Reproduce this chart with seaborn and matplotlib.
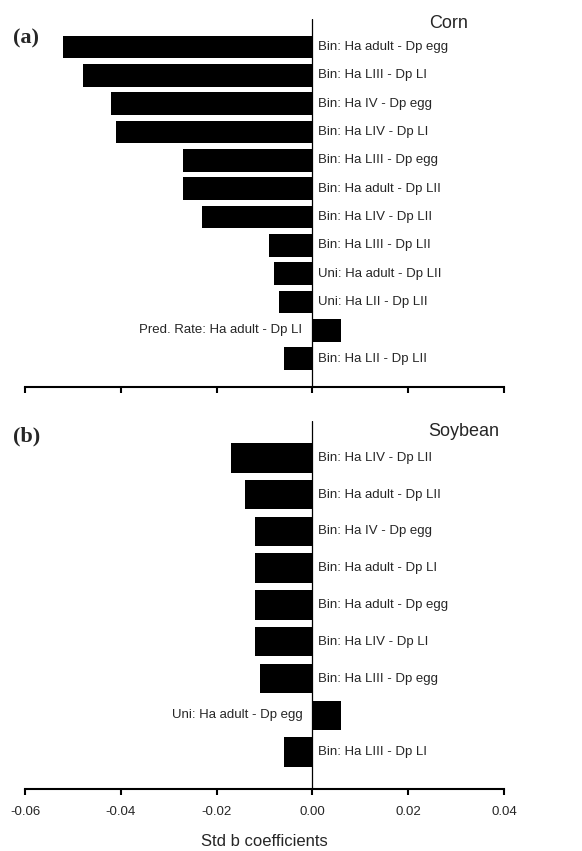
import matplotlib
matplotlib.use("Agg")
import matplotlib.pyplot as plt
import pandas as pd
import seaborn as sns

# Corn (a)
corn_labels = ["Bin: Ha adult - Dp egg", "Bin: Ha LIII - Dp LI", "Bin: Ha IV - Dp egg",
               "Bin: Ha LIV - Dp LI", "Bin: Ha LIII - Dp egg", "Bin: Ha adult - Dp LII",
               "Bin: Ha LIV - Dp LII", "Bin: Ha LIII - Dp LII", "Uni: Ha adult - Dp LII",
               "Uni: Ha LII - Dp LII", "Pred. Rate: Ha adult - Dp LI", "Bin: Ha LII - Dp LII"]
corn_values = [-0.052, -0.048, -0.042, -0.041, -0.027, -0.027,
               -0.023, -0.009, -0.008, -0.007, 0.006, -0.006]

# Soybean (b)
soy_labels = ["Bin: Ha LIV - Dp LII", "Bin: Ha adult - Dp LII", "Bin: Ha IV - Dp egg",
              "Bin: Ha adult - Dp LI", "Bin: Ha adult - Dp egg", "Bin: Ha LIV - Dp LI",
              "Bin: Ha LIII - Dp egg", "Uni: Ha adult - Dp egg", "Bin: Ha LIII - Dp LI"]
soy_values = [-0.017, -0.014, -0.012, -0.012, -0.012, -0.012, -0.011, 0.006, -0.006]

x_ticks = [-0.06, -0.04, -0.02, 0.00, 0.02, 0.04]

sns.set_style("white")
plt.rcParams["font.family"] = ["Liberation Sans", "DejaVu Sans"]
plt.rcParams["axes.unicode_minus"] = False


def panel(ax, labels, values, letter, crop, crop_x, crop_y, letter_y):
    df = pd.DataFrame({"term": labels, "coef": values})
    sns.barplot(data=df, x="coef", y="term", orient="h", color="black",
                saturation=1, width=0.8, linewidth=0, ax=ax)
    n = len(labels)
    ax.set_ylim(n, -1)
    ax.set_xlim(x_ticks[0], x_ticks[-1])
    ax.axvline(0, color="black", lw=0.9)
    # labels sit on the opposite side of the zero line from the bar
    for i, (lab, v) in enumerate(zip(labels, values)):
        if v < 0:
            ax.text(0.0012, i, lab, ha="left", va="center", fontsize=9.5)
        else:
            ax.text(-0.0021, i, lab, ha="right", va="center", fontsize=9.5)
    for s in ["left", "right", "top"]:
        ax.spines[s].set_visible(False)
    ax.spines["bottom"].set_linewidth(1.5)
    ax.spines["bottom"].set_color("black")
    ax.set_yticks([])
    ax.set_ylabel("")
    ax.set_xlabel("")
    ax.set_xticks(x_ticks)
    ax.tick_params(axis="x", direction="out", length=4.5, width=1.5,
                   color="black", bottom=True, labelsize=9.5, pad=8)
    ax.text(crop_x, crop_y, crop, transform=ax.transAxes, ha="center",
            va="center", fontsize=13)
    ax.text(-0.025, letter_y, letter, transform=ax.transAxes, ha="left",
            va="center", fontsize=16, fontweight="bold",
            family=["Liberation Serif", "DejaVu Serif"])


fig = plt.figure(figsize=(5.82, 8.51), dpi=100)
ax_a = fig.add_axes([0.043, 0.5452, 0.823, 0.4328])
ax_b = fig.add_axes([0.043, 0.0729, 0.823, 0.4324])

panel(ax_a, corn_labels, corn_values, "(a)", "Corn", 0.885, 0.986, 0.945)
panel(ax_b, soy_labels, soy_values, "(b)", "Soybean", 0.916, 0.972, 0.958)

ax_a.set_xticklabels([])
ax_b.set_xticklabels([f"{t:.2f}" for t in x_ticks])
ax_b.set_xlabel("Std b coefficients", fontsize=12, labelpad=11)

fig.savefig("out.png", dpi=100)
